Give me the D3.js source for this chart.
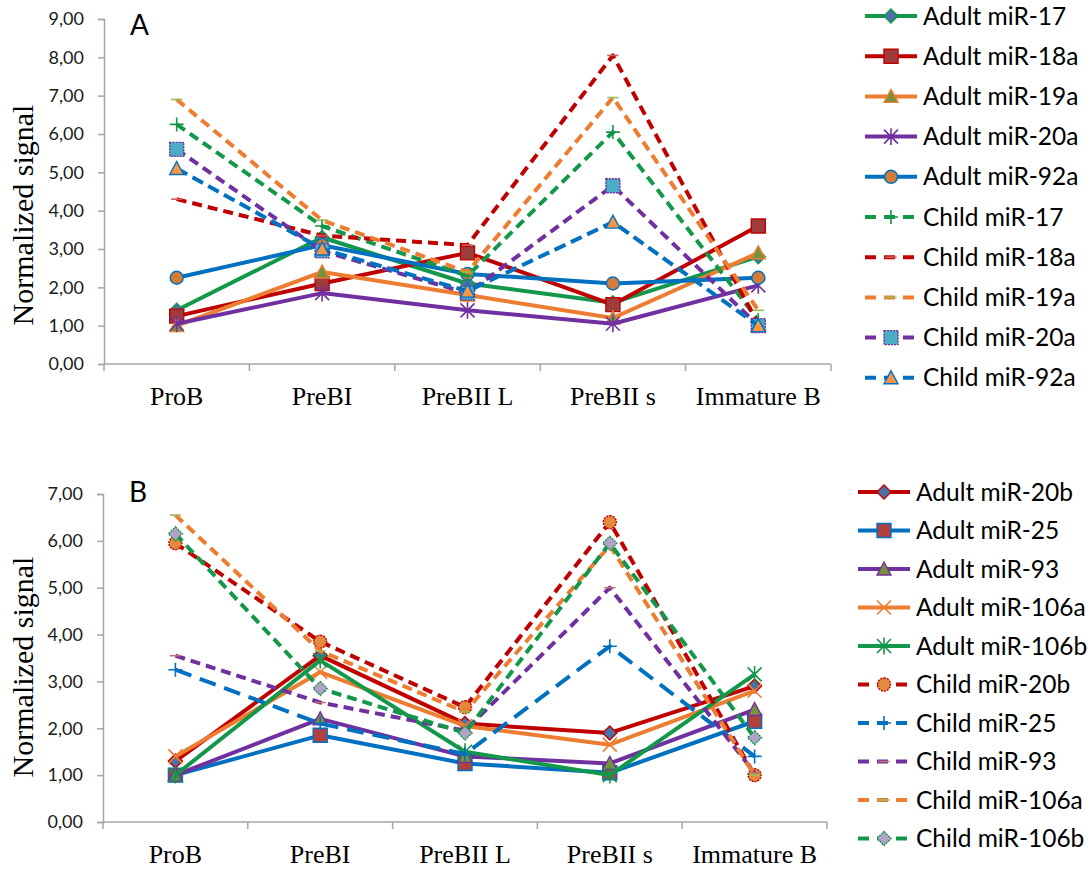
<!DOCTYPE html>
<html>
<head>
<meta charset="utf-8">
<script src="https://cdn.jsdelivr.net/npm/d3@7"></script>
<style>
  html, body { margin: 0; padding: 0; background: #fff; }
  svg { display: block; }
</style>
</head>
<body>
<svg id="chart" width="1090" height="869"></svg>
<script>
/////////////////////////////////
// miR-17~92 family expression across B-cell stages, two panels.
//

// Categories shared by both panels.
const stages = ["ProB", "PreBI", "PreBII L", "PreBII s", "Immature B"];

// Panel A series (miR-17~92 cluster).
const namesA = ["Adult miR-17", "Adult miR-18a", "Adult miR-19a", "Adult miR-20a", "Adult miR-92a",
                "Child miR-17", "Child miR-18a", "Child miR-19a", "Child miR-20a", "Child miR-92a"];
const adultMiR17  = [1.40, 3.30, 2.10, 1.60, 2.80];
const adultMiR18a = [1.25, 2.10, 2.90, 1.55, 3.60];
const adultMiR19a = [1.00, 2.40, 1.80, 1.20, 2.90];
const adultMiR20a = [1.05, 1.85, 1.40, 1.05, 2.05];
const adultMiR92a = [2.25, 3.10, 2.35, 2.10, 2.25];
const childMiR17  = [6.25, 3.60, 2.30, 6.05, 1.15];
const childMiR18a = [4.30, 3.35, 3.10, 8.05, 1.05];
const childMiR19a = [6.90, 3.75, 2.40, 6.95, 1.40];
const childMiR20a = [5.60, 2.95, 1.85, 4.65, 1.00];
const childMiR92a = [5.10, 3.00, 1.90, 3.70, 1.00];
const ticksA = ["0,00", "1,00", "2,00", "3,00", "4,00", "5,00", "6,00", "7,00", "8,00", "9,00"];

// Panel B series (paralog clusters).
const namesB = ["Adult miR-20b", "Adult miR-25", "Adult miR-93", "Adult miR-106a", "Adult miR-106b",
                "Child miR-20b", "Child miR-25", "Child miR-93", "Child miR-106a", "Child miR-106b"];
const adultMiR20b  = [1.30, 3.55, 2.10, 1.90, 2.90];
const adultMiR25   = [1.00, 1.85, 1.25, 1.05, 2.15];
const adultMiR93   = [1.00, 2.20, 1.40, 1.25, 2.40];
const adultMiR106a = [1.40, 3.20, 2.05, 1.65, 2.80];
const adultMiR106b = [1.00, 3.45, 1.50, 1.00, 3.15];
const childMiR20b  = [5.95, 3.85, 2.45, 6.40, 1.00];
const childMiR25   = [3.25, 2.10, 1.45, 3.75, 1.40];
const childMiR93   = [3.55, 2.55, 1.95, 5.00, 1.05];
const childMiR106a = [6.55, 3.65, 2.35, 5.90, 1.00];
const childMiR106b = [6.15, 2.85, 1.90, 5.95, 1.80];
const ticksB = ["0,00", "1,00", "2,00", "3,00", "4,00", "5,00", "6,00", "7,00"];

// Colours.
const GREEN = "#13974a", RED = "#c00000", ORANGE = "#ed7d31", PURPLE = "#7030a0", BLUE = "#0070c0";

// Series styles (line colour, dash, marker type and fill).
const stylesA = [
    { color: GREEN,  dash: null,   marker: "diamond",  fill: "#4a72a8", mstroke: GREEN },
    { color: RED,    dash: null,   marker: "square",   fill: "#9e3b3b", mstroke: RED },
    { color: ORANGE, dash: null,   marker: "triangle", fill: "#76923c", mstroke: ORANGE },
    { color: PURPLE, dash: null,   marker: "star",     fill: "none",    mstroke: PURPLE },
    { color: BLUE,   dash: null,   marker: "circle",   fill: "#d17c37", mstroke: BLUE },
    { color: GREEN,  dash: "10,6", marker: "plus",     fill: "none",    mstroke: GREEN },
    { color: RED,    dash: "10,6", marker: "dash",     fill: "none",    mstroke: "#d06060" },
    { color: ORANGE, dash: "10,6", marker: "dash",     fill: "none",    mstroke: "#9bbb59" },
    { color: PURPLE, dash: "10,6", marker: "square",   fill: "#4bacc6", mstroke: PURPLE, mdash: "2,1" },
    { color: BLUE,   dash: "12,6", marker: "triangle", fill: "#f79646", mstroke: BLUE }
];
const stylesB = [
    { color: RED,    dash: null,   marker: "diamond",  fill: "#4a72a8", mstroke: RED },
    { color: BLUE,   dash: null,   marker: "square",   fill: "#b0413e", mstroke: BLUE },
    { color: PURPLE, dash: null,   marker: "triangle", fill: "#76923c", mstroke: PURPLE },
    { color: ORANGE, dash: null,   marker: "x",        fill: "none",    mstroke: ORANGE },
    { color: GREEN,  dash: null,   marker: "star",     fill: "none",    mstroke: GREEN },
    { color: RED,    dash: "10,6", marker: "circle",   fill: "#e48a3e", mstroke: RED, mdash: "2,1" },
    { color: BLUE,   dash: "17,9", marker: "plus",     fill: "none",    mstroke: BLUE },
    { color: PURPLE, dash: "10,6", marker: "dash",     fill: "none",    mstroke: "#c07070" },
    { color: ORANGE, dash: "10,6", marker: "dash",     fill: "none",    mstroke: "#9bbb59" },
    { color: GREEN,  dash: "10,6", marker: "diamond",  fill: "#b3a2c7", mstroke: GREEN, mdash: "2,1" }
];

const valuesA = [adultMiR17, adultMiR18a, adultMiR19a, adultMiR20a, adultMiR92a,
                 childMiR17, childMiR18a, childMiR19a, childMiR20a, childMiR92a];
const valuesB = [adultMiR20b, adultMiR25, adultMiR93, adultMiR106a, adultMiR106b,
                 childMiR20b, childMiR25, childMiR93, childMiR106a, childMiR106b];

const svg = d3.select("#chart");

// Marker path for a type, half-size r.
function markerPath(type, r) {

    switch (type) {
        case "diamond":  return `M0,${-r}L${r},0L0,${r}L${-r},0Z`;
        case "square":   return `M${-r},${-r}H${r}V${r}H${-r}Z`;
        case "triangle": return `M0,${-r}L${r},${r * 0.85}L${-r},${r * 0.85}Z`;
        case "circle":   return d3.arc()({ innerRadius: 0, outerRadius: r, startAngle: 0, endAngle: 2 * Math.PI });
        case "star":     return `M${-r},${-r}L${r},${r}M${-r},${r}L${r},${-r}M0,${-r * 1.2}V${r * 1.2}`;
        case "x":        return `M${-r},${-r}L${r},${r}M${-r},${r}L${r},${-r}`;
        case "plus":     return `M${-r},0H${r}M0,${-r}V${r}`;
        case "dash":     return `M${-r * 0.8},0H${r * 0.8}`;
    }
    return "";
}

function drawMarker(g, st, x, y) {

    const open = st.fill === "none";
    g.append("path")
        .attr("transform", `translate(${x},${y})`)
        .attr("d", markerPath(st.marker, st.marker === "circle" ? 6.5 : 7))
        .attr("fill", st.fill)
        .attr("stroke", st.mstroke)
        .attr("stroke-width", open ? 1.6 : 1.4)
        .attr("stroke-dasharray", st.mdash || null);
}

function drawPanel(cfg) {

    const g = svg.append("g");

    const x = d3.scaleBand().domain(stages).range([cfg.left, cfg.right]);
    const y = d3.scaleLinear().domain([0, cfg.ticks.length - 1]).range([cfg.bottom, cfg.top]);

    // Y axis.
    const yAxis = g.append("g")
        .attr("transform", `translate(${cfg.left},0)`)
        .call(d3.axisLeft(y)
            .tickValues(d3.range(cfg.ticks.length))
            .tickFormat((d, i) => cfg.ticks[i])
            .tickSize(6)
            .tickPadding(14));
    yAxis.select(".domain").attr("stroke", "#a6a6a6").attr("stroke-width", 1.5);
    yAxis.selectAll(".tick line").attr("stroke", "#a6a6a6").attr("stroke-width", 1.5);
    yAxis.selectAll(".tick text")
        .attr("fill", "#1a1a1a")
        .style("font-family", "Lato, 'Open Sans', sans-serif")
        .style("font-size", "18px");

    // X axis: tick marks on band boundaries, labels at band centres.
    const xAxis = g.append("g").attr("transform", `translate(0,${cfg.bottom})`);
    xAxis.append("line")
        .attr("x1", cfg.left).attr("x2", cfg.right)
        .attr("stroke", "#a6a6a6").attr("stroke-width", 1.5);
    xAxis.selectAll(".xt")
        .data(stages.concat(["end"]))
        .enter()
        .append("line")
        .attr("x1", (d, i) => cfg.left + i * x.bandwidth())
        .attr("x2", (d, i) => cfg.left + i * x.bandwidth())
        .attr("y1", 0).attr("y2", 7)
        .attr("stroke", "#a6a6a6").attr("stroke-width", 1.5);
    xAxis.selectAll(".xl")
        .data(stages)
        .enter()
        .append("text")
        .attr("x", (d) => x(d) + x.bandwidth() / 2)
        .attr("y", cfg.labelY - cfg.bottom)
        .attr("text-anchor", "middle")
        .style("font-family", "'Liberation Serif', 'Times New Roman', serif")
        .style("font-size", "26px")
        .attr("fill", "#000")
        .text((d) => d);

    // Axis title.
    g.append("text")
        .attr("transform", `translate(33,${cfg.titleY}) rotate(-90)`)
        .attr("text-anchor", "middle")
        .style("font-family", "'Liberation Serif', 'Times New Roman', serif")
        .style("font-size", "30px")
        .attr("fill", "#000")
        .text("Normalized signal");

    // Panel letter.
    g.append("text")
        .attr("x", cfg.left + 26)
        .attr("y", cfg.letterY)
        .style("font-family", "Lato, 'Open Sans', sans-serif")
        .style("font-size", "28px")
        .attr("fill", "#000")
        .text(cfg.letter);

    // Series lines then markers.
    const line = d3.line()
        .x((d, i) => x(stages[i]) + x.bandwidth() / 2)
        .y((d) => y(d));

    cfg.values.forEach((vals, s) => {

        const st = cfg.styles[s];
        g.append("path")
            .datum(vals)
            .attr("d", line)
            .attr("fill", "none")
            .attr("stroke", st.color)
            .attr("stroke-width", 4)
            .attr("stroke-linejoin", "round")
            .attr("stroke-dasharray", st.dash);

        vals.forEach((v, i) => {

            drawMarker(g, st, x(stages[i]) + x.bandwidth() / 2, y(v));
        });
    });

    // Legend.
    const lg = g.append("g");
    cfg.names.forEach((name, s) => {

        const st = cfg.styles[s];
        const cy = cfg.legendTop + s * cfg.legendStep;
        lg.append("line")
            .attr("x1", cfg.legendX).attr("x2", cfg.legendX + 52)
            .attr("y1", cy).attr("y2", cy)
            .attr("stroke", st.color)
            .attr("stroke-width", 4)
            .attr("stroke-dasharray", st.dash ? "11,8" : null);
        drawMarker(lg, st, cfg.legendX + 26, cy);
        lg.append("text")
            .attr("x", cfg.legendX + 58)
            .attr("y", cy + 8.5)
            .style("font-family", "Lato, 'Open Sans', sans-serif")
            .style("font-size", "24.5px")
            .attr("fill", "#000")
            .text(name);
    });
}

drawPanel({
    letter: "A", names: namesA, values: valuesA, styles: stylesA, ticks: ticksA,
    left: 104, right: 831, top: 19, bottom: 364,
    labelY: 405, titleY: 215, letterY: 35,
    legendX: 865, legendTop: 16, legendStep: 40.2
});

drawPanel({
    letter: "B", names: namesB, values: valuesB, styles: stylesB, ticks: ticksB,
    left: 103, right: 827, top: 494, bottom: 822,
    labelY: 863, titleY: 667, letterY: 502,
    legendX: 858, legendTop: 492, legendStep: 38.5
});
</script>
</body>
</html>
